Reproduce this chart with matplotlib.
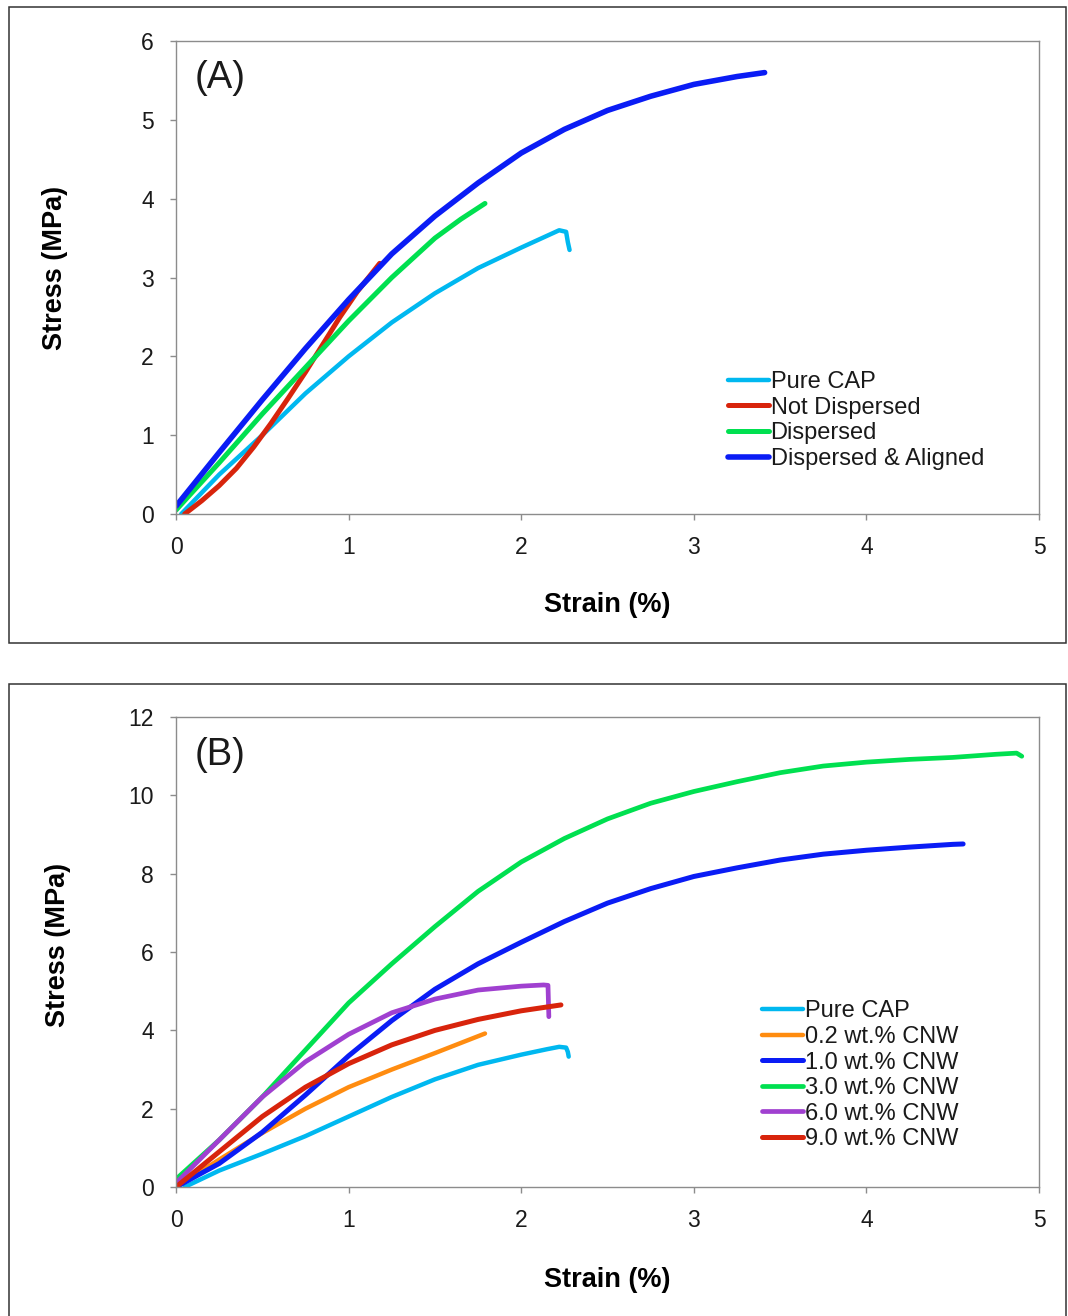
import matplotlib.pyplot as plt
from matplotlib.patches import Rectangle

# ---- data ----
# panel A
cap_a_x = [0.03, 0.25, 0.5, 0.75, 1.0, 1.25, 1.5, 1.75, 2.0, 2.15, 2.22, 2.26, 2.27, 2.28]
cap_a_y = [0.0, 0.5, 1.0, 1.53, 2.0, 2.43, 2.8, 3.12, 3.38, 3.53, 3.60, 3.58, 3.45, 3.35]
notdisp_x = [0.05, 0.15, 0.25, 0.35, 0.45, 0.55, 0.65, 0.75, 0.85, 0.95, 1.05, 1.18]
notdisp_y = [0.0, 0.17, 0.36, 0.58, 0.85, 1.15, 1.47, 1.8, 2.15, 2.5, 2.82, 3.18]
disp_x = [0.0, 0.25, 0.5, 0.75, 1.0, 1.25, 1.5, 1.65, 1.79]
disp_y = [0.05, 0.65, 1.27, 1.86, 2.45, 3.0, 3.5, 3.74, 3.94]
align_x = [0.0, 0.25, 0.5, 0.75, 1.0, 1.25, 1.5, 1.75, 2.0, 2.25, 2.5, 2.75, 3.0, 3.25, 3.41]
align_y = [0.1, 0.78, 1.45, 2.1, 2.72, 3.3, 3.78, 4.2, 4.58, 4.88, 5.12, 5.3, 5.45, 5.55, 5.6]
labels_a = ["Pure CAP", "Not Dispersed", "Dispersed", "Dispersed & Aligned"]

# panel B
cap_b_x = [0.05, 0.25, 0.5, 0.75, 1.0, 1.25, 1.5, 1.75, 2.0, 2.15, 2.22, 2.26, 2.27, 2.275]
cap_b_y = [0.0, 0.42, 0.85, 1.3, 1.8, 2.3, 2.75, 3.12, 3.38, 3.52, 3.58, 3.56, 3.45, 3.33]
w02_x = [0.0, 0.25, 0.5, 0.75, 1.0, 1.25, 1.5, 1.79]
w02_y = [0.0, 0.7, 1.38, 2.0, 2.55, 3.0, 3.42, 3.92]
w10_x = [0.0, 0.25, 0.5, 0.75, 1.0, 1.25, 1.5, 1.75, 2.0, 2.25, 2.5, 2.75, 3.0, 3.25,
         3.5, 3.75, 4.0, 4.25, 4.5, 4.56]
w10_y = [0.0, 0.6, 1.4, 2.35, 3.35, 4.25, 5.05, 5.7, 6.25, 6.78, 7.25, 7.62, 7.93, 8.15,
         8.35, 8.5, 8.6, 8.68, 8.75, 8.76]
w30_x = [0.0, 0.25, 0.5, 0.75, 1.0, 1.25, 1.5, 1.75, 2.0, 2.25, 2.5, 2.75, 3.0, 3.25,
         3.5, 3.75, 4.0, 4.25, 4.5, 4.75, 4.87, 4.9]
w30_y = [0.2, 1.2, 2.3, 3.5, 4.7, 5.7, 6.65, 7.55, 8.3, 8.9, 9.4, 9.8, 10.1, 10.35,
         10.58, 10.75, 10.85, 10.92, 10.97, 11.05, 11.08, 11.0]
w60_x = [0.0, 0.25, 0.5, 0.75, 1.0, 1.25, 1.5, 1.75, 2.0, 2.13, 2.155, 2.16]
w60_y = [0.1, 1.2, 2.3, 3.2, 3.9, 4.45, 4.8, 5.03, 5.13, 5.16, 5.15, 4.35]
w90_x = [0.0, 0.25, 0.5, 0.75, 1.0, 1.25, 1.5, 1.75, 2.0, 2.23]
w90_y = [0.0, 0.9, 1.8, 2.55, 3.15, 3.63, 4.0, 4.28, 4.5, 4.65]
labels_b = ["Pure CAP", "0.2 wt.% CNW", "1.0 wt.% CNW",
            "3.0 wt.% CNW", "6.0 wt.% CNW", "9.0 wt.% CNW"]

xticks = [0, 1, 2, 3, 4, 5]
yticks_a = [0, 1, 2, 3, 4, 5, 6]
yticks_b = [0, 2, 4, 6, 8, 10, 12]

# colours
c_cyan = "#00b8f0"
c_red = "#d8240c"
c_green = "#00e050"
c_blue = "#0a1cf5"
c_orange = "#ff8c10"
c_purple = "#a040d0"

plt.rcParams['font.family'] = ['Liberation Sans', 'DejaVu Sans']
plt.rcParams['lines.solid_capstyle'] = 'round'
plt.rcParams['lines.solid_joinstyle'] = 'round'

fig = plt.figure(figsize=(10.68, 13.16), dpi=100)

# panel frames
fig.patches.append(Rectangle((0.0084, 0.5114), 0.99, 0.4833, transform=fig.transFigure,
                             fill=False, edgecolor='#333333', linewidth=1.1))
fig.patches.append(Rectangle((0.0084, -0.02), 0.99, 0.5002, transform=fig.transFigure,
                             fill=False, edgecolor='#333333', linewidth=1.1))


def style_axes(ax, yticks, ymax):
    ax.set_xlim(0, 5)
    ax.set_ylim(0, ymax)
    ax.set_xticks(xticks)
    ax.set_yticks(yticks)
    for s in ax.spines.values():
        s.set_color('#8c8c8c')
        s.set_linewidth(1.0)
    ax.tick_params(direction='out', length=4, width=1, color='#8c8c8c',
                   labelsize=16.5, labelcolor='#1a1a1a', pad=12)


def add_legend(ax, x, y):
    leg = ax.legend(loc='upper left', bbox_to_anchor=(x, y), frameon=False,
                    fontsize=17, handlelength=1.75, handletextpad=0.05,
                    labelspacing=0.15, borderpad=0, borderaxespad=0)
    for t in leg.get_texts():
        t.set_color('#1a1a1a')


# ---- panel A ----
axa = fig.add_axes([0.1648, 0.6094, 0.8081, 0.3594])
axa.plot(cap_a_x, cap_a_y, color=c_cyan, lw=3.2, label=labels_a[0])
axa.plot(notdisp_x, notdisp_y, color=c_red, lw=3.6, label=labels_a[1])
axa.plot(disp_x, disp_y, color=c_green, lw=3.6, label=labels_a[2])
axa.plot(align_x, align_y, color=c_blue, lw=4.0, label=labels_a[3])
style_axes(axa, yticks_a, 6)
axa.set_xlabel("Strain (%)", fontsize=19.5, fontweight='bold')
axa.set_ylabel("Stress (MPa)", fontsize=19.5, fontweight='bold')
axa.xaxis.set_label_coords(0.5, -0.192)
axa.yaxis.set_label_coords(-0.140, 0.52)
axa.xaxis.label.set_va('center')
axa.yaxis.label.set_va('center')
axa.text(0.022, 0.922, "(A)", transform=axa.transAxes, fontsize=27.5,
         ha='left', va='center', color='#1a1a1a')
add_legend(axa, 0.6396, 0.302)

# ---- panel B ----
axb = fig.add_axes([0.1648, 0.0980, 0.8081, 0.3571])
axb.plot(cap_b_x, cap_b_y, color=c_cyan, lw=3.2, label=labels_b[0])
axb.plot(w02_x, w02_y, color=c_orange, lw=3.2, label=labels_b[1])
axb.plot(w10_x, w10_y, color=c_blue, lw=3.6, label=labels_b[2])
axb.plot(w30_x, w30_y, color=c_green, lw=3.4, label=labels_b[3])
axb.plot(w60_x, w60_y, color=c_purple, lw=3.4, label=labels_b[4])
axb.plot(w90_x, w90_y, color=c_red, lw=3.6, label=labels_b[5])
style_axes(axb, yticks_b, 12)
axb.set_xlabel("Strain (%)", fontsize=19.5, fontweight='bold')
axb.set_ylabel("Stress (MPa)", fontsize=19.5, fontweight='bold')
axb.xaxis.set_label_coords(0.5, -0.198)
axb.yaxis.set_label_coords(-0.137, 0.515)
axb.xaxis.label.set_va('center')
axb.yaxis.label.set_va('center')
axb.text(0.022, 0.919, "(B)", transform=axb.transAxes, fontsize=27.5,
         ha='left', va='center', color='#1a1a1a')
add_legend(axb, 0.679, 0.397)

fig.savefig("out.png", dpi=100)
